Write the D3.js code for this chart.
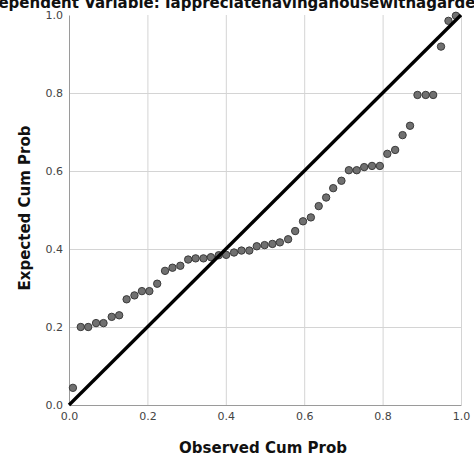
<!DOCTYPE html>
<head>
    <meta charset="utf-8">
    <style>
        body { margin: 0; background: #fff; }
        .grid line { stroke: #d4d4d4; stroke-width: 1; }
        .grid path { display: none; }
        .axis text { font-family: "DejaVu Sans", sans-serif; font-size: 11px; fill: #444; }
        .axis path { stroke: #9a9a9a; }
        .title { font-family: "DejaVu Sans", sans-serif; font-weight: bold; fill: #111; }
    </style>
</head>
<body>
    <div id="chart"></div>
    <script src="https://d3js.org/d3.v7.min.js"></script>
    <script>
        // observed vs expected cumulative probability
        var observed = [0.010, 0.030, 0.049, 0.069, 0.088, 0.109, 0.128, 0.147, 0.167, 0.186,
                        0.205, 0.225, 0.245, 0.264, 0.284, 0.304, 0.323, 0.343, 0.362, 0.382,
                        0.401, 0.421, 0.440, 0.460, 0.479, 0.499, 0.519, 0.538, 0.559, 0.577,
                        0.597, 0.617, 0.637, 0.656, 0.674, 0.695, 0.714, 0.734, 0.753, 0.773,
                        0.793, 0.812, 0.832, 0.851, 0.870, 0.889, 0.910, 0.929, 0.949, 0.968,
                        0.987];
        var expected = [0.044, 0.200, 0.200, 0.210, 0.210, 0.226, 0.230, 0.271, 0.281, 0.292,
                        0.292, 0.311, 0.344, 0.352, 0.357, 0.373, 0.376, 0.376, 0.379, 0.384,
                        0.385, 0.391, 0.396, 0.396, 0.407, 0.410, 0.413, 0.417, 0.425, 0.446,
                        0.471, 0.481, 0.510, 0.532, 0.556, 0.575, 0.602, 0.602, 0.610, 0.613,
                        0.613, 0.644, 0.654, 0.692, 0.716, 0.795, 0.795, 0.795, 0.919, 0.985,
                        0.998];
        var ticks = [0, 0.2, 0.4, 0.6, 0.8, 1.0];
        var dependent = "Dependent Variable: Iappreciatehavingahousewithagarden";

        var W = 474, H = 457;
        var margin = {top: 15, right: 13, bottom: 52, left: 69};
        var width = W - margin.left - margin.right,
            height = H - margin.top - margin.bottom;

        var svg = d3.select("#chart").append("svg")
            .attr("width", W)
            .attr("height", H);

        var g = svg.append("g")
            .attr("transform", "translate(" + margin.left + "," + margin.top + ")");

        var x = d3.scaleLinear().domain([0, 1]).range([0, width]);
        var y = d3.scaleLinear().domain([0, 1]).range([height, 0]);

        // gridlines
        g.append("g")
            .attr("class", "grid")
            .call(d3.axisBottom(x).tickValues(ticks.slice(1)).tickSize(height).tickFormat(""));
        g.append("g")
            .attr("class", "grid")
            .call(d3.axisLeft(y).tickValues(ticks.slice(1, 5)).tickSize(-width).tickFormat(""));

        // axes
        g.append("g")
            .attr("class", "axis")
            .attr("transform", "translate(0," + height + ")")
            .call(d3.axisBottom(x).tickValues(ticks).tickSize(0).tickPadding(7).tickFormat(d3.format(".1f")));
        g.append("g")
            .attr("class", "axis")
            .call(d3.axisLeft(y).tickValues(ticks).tickSize(0).tickPadding(6).tickFormat(d3.format(".1f")));

        var pts = observed.map(function(d, i) { return {x: d, y: expected[i]}; });

        g.selectAll(".dot")
            .data(pts)
            .enter().append("circle")
            .attr("class", "dot")
            .attr("cx", function(d) { return x(d.x); })
            .attr("cy", function(d) { return y(d.y); })
            .attr("r", 3.7)
            .attr("fill", "#707070")
            .attr("stroke", "#3a3a3a")
            .attr("stroke-width", 1);

        // reference line
        g.append("line")
            .attr("x1", x(0)).attr("y1", y(0))
            .attr("x2", x(1)).attr("y2", y(1))
            .attr("stroke", "#000")
            .attr("stroke-width", 3.3);

        // titles (the subtitle runs past both edges, as in the source image)
        svg.append("text")
            .attr("class", "title")
            .attr("x", 236).attr("y", 8)
            .attr("text-anchor", "middle")
            .attr("font-size", 15)
            .text(dependent);

        svg.append("text")
            .attr("class", "title")
            .attr("x", margin.left + width / 2 - 2).attr("y", 453)
            .attr("text-anchor", "middle")
            .attr("font-size", 15)
            .text("Observed Cum Prob");

        svg.append("text")
            .attr("class", "title")
            .attr("transform", "translate(30," + (margin.top + height / 2 - 2) + ") rotate(-90)")
            .attr("text-anchor", "middle")
            .attr("font-size", 15)
            .text("Expected Cum Prob");
    </script>
</body>
